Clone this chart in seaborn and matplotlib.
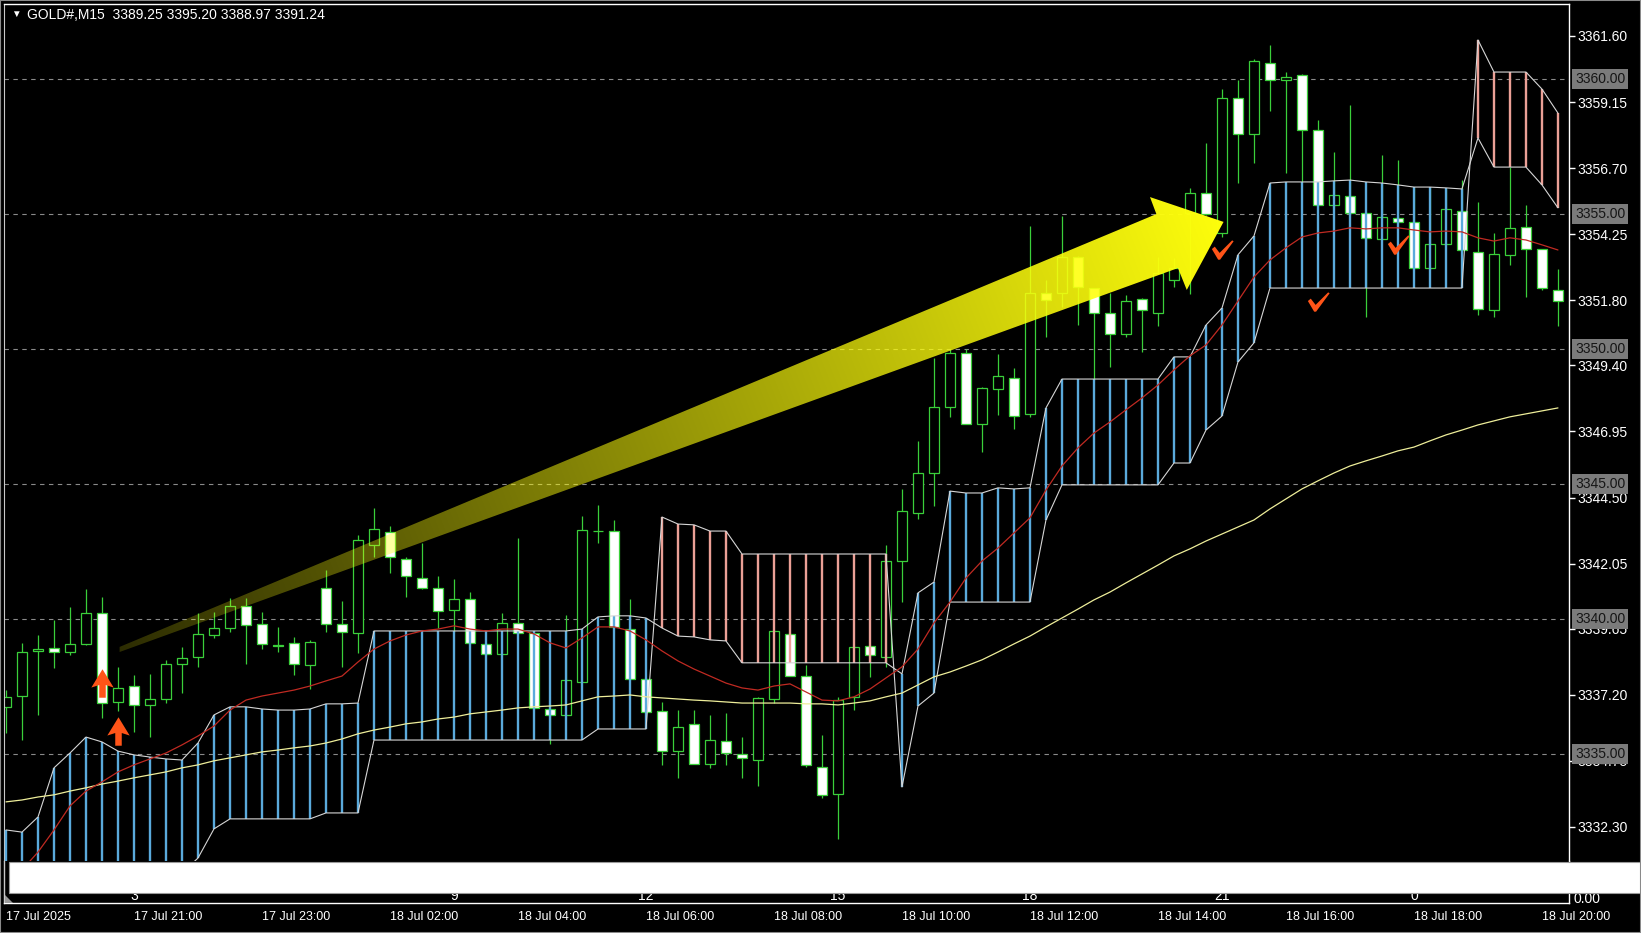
import numpy as np
import pandas as pd
import matplotlib
matplotlib.use('Agg')
import matplotlib.pyplot as plt
import matplotlib.transforms as mtransforms
from matplotlib.path import Path
from matplotlib.patches import Polygon, Rectangle
import seaborn as sns

sns.set_style('dark')
plt.rcParams['font.family'] = ['Liberation Sans', 'DejaVu Sans']

# ---- M15 candles, 17 Jul 19:00 .. 18 Jul 20:15 ----
opens = [3336.75, 3337.15, 3338.82, 3338.93, 3338.78, 3339.08, 3340.23, 3336.93, 3337.52, 3336.82,
         3337.04, 3338.34, 3338.60, 3339.41, 3339.67, 3340.49, 3339.82, 3339.04, 3339.12, 3338.30,
         3341.15, 3339.82, 3339.49, 3342.75, 3343.23, 3342.23, 3341.52, 3341.15, 3340.34, 3340.75,
         3339.08, 3338.71, 3339.86, 3339.49, 3336.67, 3336.45, 3337.67, 3343.27, 3343.26, 3339.63,
         3337.78, 3336.60, 3335.11, 3336.12, 3334.63, 3335.49, 3335.00, 3334.78, 3337.04, 3339.45,
         3337.89, 3334.52, 3333.52, 3337.12, 3339.00, 3338.60, 3342.15, 3343.93, 3345.41, 3347.86,
         3349.86, 3347.23, 3348.52, 3348.93, 3347.60, 3352.08, 3352.08, 3353.41, 3352.26, 3351.34,
         3350.56, 3351.86, 3351.34, 3352.56, 3355.04, 3355.78, 3354.30, 3359.30, 3357.97, 3360.60,
         3359.97, 3360.15, 3358.12, 3355.34, 3355.67, 3355.04, 3354.08, 3354.86, 3354.71, 3353.00,
         3353.89, 3355.12, 3353.60, 3351.45, 3353.49, 3354.52, 3353.71, 3352.19]
highs = [3337.37, 3339.12, 3339.41, 3339.97, 3340.45, 3341.12, 3340.82, 3338.23, 3337.93, 3337.97,
         3338.49, 3338.97, 3340.23, 3340.26, 3340.78, 3340.78, 3340.26, 3339.71, 3339.34, 3339.23,
         3341.82, 3340.67, 3343.12, 3344.12, 3343.45, 3342.30, 3342.82, 3341.60, 3341.49, 3341.00,
         3339.12, 3340.23, 3343.00, 3339.50, 3336.68, 3340.15, 3343.82, 3344.23, 3343.67, 3340.75,
         3337.82, 3336.93, 3336.63, 3336.63, 3336.45, 3336.52, 3335.63, 3337.10, 3339.58, 3339.47,
         3338.30, 3335.71, 3337.12, 3338.99, 3339.02, 3342.75, 3344.82, 3346.60, 3349.67, 3350.00,
         3350.00, 3348.58, 3349.82, 3349.30, 3354.56, 3352.56, 3354.93, 3353.43, 3352.28, 3352.08,
         3352.00, 3351.88, 3353.41, 3353.38, 3355.97, 3357.63, 3359.63, 3359.97, 3360.74, 3361.26,
         3360.26, 3360.17, 3358.49, 3357.30, 3359.04, 3355.06, 3357.19, 3357.00, 3356.00, 3356.00,
         3355.97, 3356.26, 3355.45, 3354.30, 3356.74, 3355.34, 3353.72, 3352.97]
lows = [3335.78, 3335.52, 3336.45, 3338.19, 3338.67, 3339.05, 3336.34, 3336.60, 3335.82, 3335.63,
        3336.89, 3337.26, 3338.23, 3339.30, 3339.52, 3338.34, 3338.89, 3338.78, 3337.93, 3337.41,
        3339.52, 3338.23, 3338.75, 3342.30, 3341.71, 3340.82, 3341.12, 3339.67, 3339.52, 3339.10,
        3338.67, 3338.69, 3339.47, 3336.70, 3335.37, 3336.44, 3337.66, 3342.82, 3339.70, 3337.77,
        3336.52, 3334.60, 3334.12, 3334.62, 3334.49, 3334.60, 3334.12, 3333.82, 3336.89, 3337.88,
        3334.52, 3333.37, 3331.86, 3336.63, 3337.86, 3338.23, 3340.63, 3343.71, 3344.19, 3347.49,
        3347.22, 3346.19, 3347.56, 3347.04, 3347.49, 3350.45, 3351.56, 3350.89, 3348.86, 3349.34,
        3350.45, 3349.89, 3350.86, 3352.30, 3352.04, 3354.98, 3354.15, 3356.15, 3356.89, 3358.82,
        3356.52, 3356.19, 3355.33, 3355.30, 3355.03, 3351.19, 3354.07, 3354.70, 3352.99, 3352.98,
        3353.88, 3353.66, 3351.26, 3351.19, 3353.12, 3351.93, 3352.18, 3350.86]
closes = [3337.12, 3338.78, 3338.89, 3338.78, 3339.08, 3340.23, 3336.89, 3337.45, 3336.82, 3337.04,
          3338.34, 3338.56, 3339.45, 3339.67, 3340.49, 3339.78, 3339.08, 3339.02, 3338.34, 3339.15,
          3339.82, 3339.52, 3342.93, 3343.34, 3342.30, 3341.60, 3341.15, 3340.30, 3340.75, 3339.12,
          3338.71, 3339.86, 3339.49, 3336.71, 3336.45, 3337.75, 3343.30, 3343.25, 3339.71, 3337.78,
          3336.56, 3335.11, 3336.00, 3334.63, 3335.52, 3335.04, 3334.86, 3337.08, 3339.56, 3337.89,
          3334.60, 3333.49, 3337.00, 3338.97, 3338.67, 3342.15, 3344.00, 3345.41, 3347.86, 3349.86,
          3347.23, 3348.56, 3349.00, 3347.52, 3352.08, 3351.80, 3353.41, 3352.30, 3351.34, 3350.56,
          3351.78, 3351.45, 3352.82, 3353.00, 3355.78, 3355.00, 3359.30, 3357.97, 3360.67, 3359.97,
          3360.08, 3358.12, 3355.34, 3355.71, 3355.04, 3354.12, 3354.89, 3354.71, 3353.00, 3353.89,
          3355.19, 3353.67, 3351.49, 3353.52, 3354.49, 3353.71, 3352.26, 3351.78]

# ---- Ichimoku cloud (Senkou span A / B) ----
span_a = ([3332.19, 3332.11, 3332.67, 3334.49, 3335.04, 3335.63, 3335.45, 3335.11, 3334.97, 3334.89,
           3334.82, 3334.78, 3335.41,
           3336.45, 3336.75, 3336.75, 3336.67, 3336.63, 3336.63, 3336.67, 3336.86, 3336.86, 3336.89]
          + [3339.56] * 13 + [3339.63]
          + [3340.08, 3340.12, 3340.12, 3340.04]
          + [3339.67, 3339.37, 3339.34, 3339.23, 3339.19] + [3338.38] * 10
          + [3337.97, 3340.97, 3341.37, 3344.74, 3344.67, 3344.67, 3344.86, 3344.82, 3344.86]
          + [3347.82] + [3348.89] * 7
          + [3349.71, 3349.71, 3350.89, 3351.52, 3353.49, 3354.19, 3356.15]
          + [3356.19, 3356.19, 3356.19, 3356.23, 3356.26, 3356.19, 3356.15, 3356.08, 3356.00, 3356.00,
             3355.97, 3355.93]
          + [3357.82, 3356.74, 3356.74, 3356.74, 3356.08, 3355.23])
span_b = ([3330.60] * 12 + [3331.15]
          + [3332.23] + [3332.60] * 6 + [3332.82] * 3
          + [3335.52] * 14
          + [3335.93] * 4
          + [3343.78, 3343.52, 3343.49, 3343.26, 3343.26] + [3342.41] * 10
          + [3333.78, 3336.78, 3337.26] + [3340.63] * 6
          + [3343.67] + [3344.97] * 7
          + [3345.78, 3345.78, 3347.00, 3347.52, 3349.52, 3350.23, 3352.26]
          + [3352.26] * 12
          + [3361.45, 3360.26, 3360.26, 3360.26, 3359.63, 3358.74])

# ---- moving averages ----
ma_fast = [3329.97, 3330.71, 3331.37, 3332.19, 3333.08, 3333.63, 3333.97, 3334.34, 3334.60, 3334.82,
           3335.04, 3335.34, 3335.67, 3336.04, 3336.63, 3337.00, 3337.15, 3337.26, 3337.37, 3337.52,
           3337.71, 3337.89, 3338.41, 3338.89, 3339.19, 3339.41, 3339.56, 3339.63, 3339.75, 3339.63,
           3339.56, 3339.63, 3339.63, 3339.45, 3339.12, 3338.93, 3339.30, 3339.71, 3339.71, 3339.56,
           3339.23, 3338.82, 3338.45, 3338.15, 3337.89, 3337.63, 3337.45, 3337.37, 3337.52, 3337.60,
           3337.30, 3337.00, 3336.97, 3337.12, 3337.41, 3337.82, 3338.23, 3338.89, 3339.86, 3340.63,
           3341.52, 3342.15, 3342.63, 3343.19, 3343.75, 3344.78, 3345.67, 3346.34, 3346.89, 3347.30,
           3347.75, 3348.19, 3348.67, 3349.23, 3349.75, 3350.15, 3350.89, 3351.78, 3352.67, 3353.30,
           3353.75, 3354.15, 3354.30, 3354.37, 3354.49, 3354.45, 3354.49, 3354.49, 3354.41, 3354.34,
           3354.37, 3354.34, 3354.12, 3354.00, 3354.12, 3354.04, 3353.86, 3353.67]
ma_slow = [3333.23, 3333.30, 3333.41, 3333.49, 3333.63, 3333.75, 3333.89, 3334.00, 3334.12, 3334.23,
           3334.34, 3334.49, 3334.60, 3334.75, 3334.86, 3334.97, 3335.08, 3335.15, 3335.23, 3335.30,
           3335.41, 3335.56, 3335.75, 3335.89, 3336.00, 3336.12, 3336.19, 3336.30, 3336.37, 3336.49,
           3336.56, 3336.63, 3336.71, 3336.75, 3336.78, 3336.82, 3336.97, 3337.12, 3337.15, 3337.19,
           3337.12, 3337.08, 3337.04, 3337.00, 3336.97, 3336.93, 3336.89, 3336.89, 3336.89, 3336.89,
           3336.86, 3336.86, 3336.82, 3336.89, 3336.97, 3337.12, 3337.26, 3337.56, 3337.86, 3338.04,
           3338.26, 3338.49, 3338.78, 3339.08, 3339.37, 3339.71, 3340.04, 3340.37, 3340.71, 3341.00,
           3341.34, 3341.67, 3342.00, 3342.34, 3342.60, 3342.89, 3343.15, 3343.41, 3343.67, 3344.08,
           3344.45, 3344.82, 3345.12, 3345.41, 3345.67, 3345.86, 3346.04, 3346.23, 3346.37, 3346.60,
           3346.82, 3347.00, 3347.19, 3347.34, 3347.49, 3347.60, 3347.71, 3347.82]

# ---- axes text ----
title = 'GOLD#,M15  3389.25 3395.20 3388.97 3391.24'
time_ticks = [0, 8, 16, 24, 32, 40, 48, 56, 64, 72, 80, 88, 96]
time_labels = ['17 Jul 2025', '17 Jul 21:00', '17 Jul 23:00', '18 Jul 02:00', '18 Jul 04:00',
               '18 Jul 06:00', '18 Jul 08:00', '18 Jul 10:00', '18 Jul 12:00', '18 Jul 14:00',
               '18 Jul 16:00', '18 Jul 18:00', '18 Jul 20:00']
price_ticks = [3361.60, 3359.15, 3356.70, 3354.25, 3351.80, 3349.40, 3346.95, 3344.50,
               3342.05, 3339.65, 3337.20, 3334.75, 3332.30]
level_lines = [3360.0, 3355.0, 3350.0, 3345.0, 3340.0, 3335.0]
sub_labels = ['3', '9', '12', '15', '18', '21', '0']
sub_label_bars = [8, 28, 40, 52, 64, 76, 88]

# annotations
signal_bars = [6, 7]
signal_prices = [3337.65, 3335.86]
check_bars = [76, 82, 87]
check_prices = [3353.67, 3351.74, 3353.86]
arrow_pts = [(7.1, 3338.97), (71.9, 3355.00), (71.5, 3355.63), (76.1, 3354.71),
             (73.8, 3352.19), (73.25, 3353.00), (7.1, 3338.78)]

GREEN = '#3acf3a'
BLUE = '#5aaadc'
PINK = '#eba096'
ORANGE = '#ff5418'

W, H = 1641, 933


def frac_box(x0, y0, x1, y1):
    return [x0 / W, 1 - y1 / H, (x1 - x0) / W, (y1 - y0) / H]


fig = plt.figure(figsize=(W / 100, H / 100), dpi=100, facecolor='black')
ax = fig.add_axes(frac_box(4, 4, 1569, 861))
ax2 = fig.add_axes(frac_box(4, 861, 1569, 903))
for a in (ax, ax2):
    a.set_facecolor('black')
    a.grid(False)

XLIM = (-0.125, 97.69)
YLIM = (3331.04, 3362.78)

df = pd.DataFrame({'open': opens, 'high': highs, 'low': lows, 'close': closes})
df['bar'] = np.arange(len(df))
up = df['close'] >= df['open']

# grid levels
for lv in level_lines:
    ax.axhline(lv, color='#8a8a8a', lw=0.8, ls=(0, (4, 4)), zorder=1)

# candles
ax.vlines(df['bar'], df['low'], df['high'], color=GREEN, lw=0.9, zorder=2)
body_lo = np.minimum(df['open'], df['close'])
body_h = np.maximum((df['close'] - df['open']).abs(), 0.02)
ax.bar(df['bar'], body_h, bottom=body_lo, width=0.62,
       color=np.where(up, 'black', 'white'), edgecolor=GREEN, linewidth=0.9, zorder=2.5)

# cloud
cloud = pd.DataFrame({'bar': df['bar'], 'a': span_a, 'b': span_b})
bull = cloud['a'] >= cloud['b']
ax.vlines(cloud.loc[bull, 'bar'], cloud.loc[bull, 'a'], cloud.loc[bull, 'b'],
          color=BLUE, lw=1.7, zorder=3)
ax.vlines(cloud.loc[~bull, 'bar'], cloud.loc[~bull, 'a'], cloud.loc[~bull, 'b'],
          color=PINK, lw=1.7, zorder=3)
sns.lineplot(x=cloud['bar'], y=cloud['a'], ax=ax, color='#d6d6d6', lw=0.8, zorder=4)
sns.lineplot(x=cloud['bar'], y=cloud['b'], ax=ax, color='#d6d6d6', lw=0.8, zorder=4)

# moving averages
sns.lineplot(x=df['bar'], y=ma_slow, ax=ax, color='#eeee9a', lw=0.9, zorder=5)
sns.lineplot(x=df['bar'], y=ma_fast, ax=ax, color='#c02a22', lw=0.9, zorder=5)

ax.set_xlim(*XLIM)
ax.set_ylim(*YLIM)

# big gradient arrow
arrow_poly = Polygon(arrow_pts, closed=True, facecolor='none', edgecolor='none')
ax.add_patch(arrow_poly)
gx = np.linspace(6.8, 76.5, 500)
gy = np.linspace(3338.5, 3356.0, 160)
GX, GY = np.meshgrid(gx, gy)
pix = ax.transData.transform(np.column_stack([GX.ravel(), GY.ravel()]))
tail = ax.transData.transform((7.1, 3338.875))
tip = ax.transData.transform((76.1, 3354.71))
d = tip - tail
t = ((pix - tail) @ d) / (d @ d)
t = np.clip(t, 0, 1).reshape(GX.shape)
rgba = np.zeros(GX.shape + (4,))
rgba[..., 0] = 1.0
rgba[..., 1] = 1.0
rgba[..., 2] = 0.05
rgba[..., 3] = np.clip(0.18 + 0.82 * t, 0, 1)
im = ax.imshow(rgba, extent=[gx[0], gx[-1], gy[0], gy[-1]], origin='lower',
               aspect='auto', interpolation='bilinear', zorder=6)
im.set_clip_path(arrow_poly)

# signal arrows and check marks
up_arrow = Path([(0, 14), (11, -4), (3.2, -1.5), (3.2, -14), (-3.2, -14), (-3.2, -1.5),
                 (-11, -4), (0, 14)], closed=True)
check_mark = Path([(-11, 1.5), (-8, 4), (-3, -2.5), (10, 10.5), (11.5, 9.5), (-2.5, -9.5),
                   (-4.5, -9.5), (-11, 1.5)], closed=True)
sns.scatterplot(x=signal_bars, y=signal_prices, ax=ax, marker=up_arrow, s=20.5 ** 2,
                color=ORANGE, edgecolor=ORANGE, linewidth=0, zorder=7)
sns.scatterplot(x=check_bars, y=check_prices, ax=ax, marker=check_mark, s=16 ** 2,
                color=ORANGE, edgecolor=ORANGE, linewidth=0, zorder=7)

ax.set_xlim(*XLIM)
ax.set_ylim(*YLIM)
ax.set_xlabel('')
ax.set_ylabel('')
ax.set_xticks([])
ax.yaxis.tick_right()
ax.set_yticks(price_ticks, labels=[f'{p:.2f}' for p in price_ticks])
ax.tick_params(axis='y', colors='white', labelsize=10, length=4, width=1, pad=2,
               right=True, left=False)
for side in ('top', 'right'):
    ax.spines[side].set_color('white')
    ax.spines[side].set_linewidth(1)
ax.spines['left'].set_color('#c8c8c8')
ax.spines['bottom'].set_visible(False)

# grey price boxes for the round levels
trans = mtransforms.blended_transform_factory(ax.transAxes, ax.transData)
for lv in level_lines:
    ax.text(1.0038, lv, f'{lv:.2f}', transform=trans, ha='left', va='center', fontsize=10,
            color='#151515', clip_on=False, zorder=10,
            bbox=dict(boxstyle='square,pad=0.22', fc='#7b7b7b', ec='none'))

# lower strip with the time axis
ax2.set_xlim(*XLIM)
ax2.set_ylim(0, 1)
ax2.set_yticks([])
ax2.set_xticks(time_ticks, labels=time_labels)
for lbl in ax2.get_xticklabels():
    lbl.set_ha('left')
ax2.tick_params(axis='x', colors='white', labelsize=9, length=3, width=1, pad=3, direction='out')
for side in ('left', 'right', 'bottom'):
    ax2.spines[side].set_color('white')
    ax2.spines[side].set_linewidth(1)
ax2.spines['top'].set_visible(False)
ax2.spines['left'].set_color('#c8c8c8')
trans2 = mtransforms.blended_transform_factory(ax2.transData, ax2.transAxes)
for b, s in zip(sub_label_bars, sub_labels):
    ax2.text(b, 0.16, s, transform=trans2, ha='center', va='center', color='white', fontsize=10)

fig.text(1573 / W, 1 - 899 / H, '0.00', color='white', fontsize=10, va='center', zorder=1)
fig.add_artist(Rectangle((9 / W, 1 - 893 / H), 1 - 9 / W, 31 / H, transform=fig.transFigure,
                         facecolor='white', edgecolor='#9a9a9a', lw=0.8, zorder=5))
fig.add_artist(Polygon([(5 / W, 1 - 903 / H), (5 / W, 1 - 895 / H), (13 / W, 1 - 903 / H)],
                       closed=True, transform=fig.transFigure, facecolor='#9a9a9a',
                       edgecolor='none', zorder=6))

# header
fig.text(16 / W, 1 - 14 / H, '\u25bc', color='white', fontsize=7, ha='center', va='center')
fig.text(27 / W, 1 - 15 / H, title, color='white', fontsize=10, va='center')
fig.add_artist(Rectangle((0, 0), 1, 1, transform=fig.transFigure, fill=False,
                         edgecolor='#8a8a8a', lw=1.5, zorder=6))

fig.savefig('out.png', dpi=100, facecolor='black')
